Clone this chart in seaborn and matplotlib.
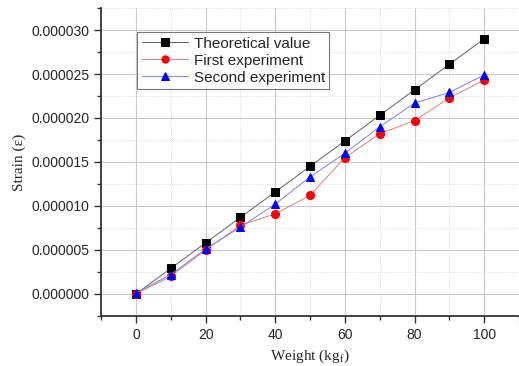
import pandas as pd
import numpy as np
import matplotlib.pyplot as plt
import seaborn as sns
from matplotlib.ticker import MultipleLocator, FormatStrFormatter

# Data (strain in units of 1e-6)
weight = [0, 10, 20, 30, 40, 50, 60, 70, 80, 90, 100]
theoretical = [0.0, 2.9, 5.8, 8.7, 11.6, 14.5, 17.4, 20.3, 23.2, 26.1, 29.0]
first_exp = [0.0, 2.0, 5.0, 7.8, 9.1, 11.2, 15.5, 18.2, 19.7, 22.3, 24.3]
second_exp = [0.1, 2.2, 5.1, 7.6, 10.2, 13.3, 16.0, 19.0, 21.7, 22.9, 24.9]

series = {
    "Theoretical value": (theoretical, "s", "#000000", "#606060"),
    "First experiment": (first_exp, "o", "#ff0000", "#e08080"),
    "Second experiment": (second_exp, "^", "#0000ff", "#8080e0"),
}

sns.set_style("white")
plt.rcParams["font.family"] = ["Liberation Sans", "DejaVu Sans"]
fig = plt.figure(figsize=(5.19, 3.66), dpi=100)
ax = fig.add_axes([0.195, 0.137, 0.805, 0.841])

for name, (vals, mk, mc, lc) in series.items():
    df = pd.DataFrame({"Weight": weight, "Strain": np.array(vals) * 1e-6})
    sns.lineplot(data=df, x="Weight", y="Strain", ax=ax, label=name,
                 color=lc, linewidth=0.7, marker=mk, markersize=5.8,
                 markerfacecolor=mc, markeredgecolor=mc)

ax.set_xlim(-10, 110)
ax.set_ylim(-2.5e-6, 32.5e-6)
ax.xaxis.set_major_locator(MultipleLocator(20))
ax.xaxis.set_minor_locator(MultipleLocator(10))
ax.yaxis.set_major_locator(MultipleLocator(5e-6))
ax.yaxis.set_minor_locator(MultipleLocator(2.5e-6))
ax.yaxis.set_major_formatter(FormatStrFormatter("%.6f"))

ax.grid(which="major", color="#cccccc", linewidth=0.8, linestyle="-")
ax.grid(which="minor", color="#d4d4d4", linewidth=0.6, linestyle=":")
ax.set_axisbelow(True)

for s in ["top", "right"]:
    ax.spines[s].set_visible(False)
for s in ["left", "bottom"]:
    ax.spines[s].set_color("#333333")
    ax.spines[s].set_linewidth(1.3)

ax.tick_params(which="major", direction="out", length=5, width=1, color="#333333",
               labelsize=10, bottom=True, left=True)
ax.tick_params(which="minor", direction="out", length=3, width=1, color="#333333",
               bottom=True, left=True)

ax.set_xlabel("Weight (kg$_\\mathregular{f}$)", family="Liberation Serif", fontsize=11)
ax.set_ylabel("Strain (\u03b5)", family="Liberation Serif", fontsize=11)

leg = ax.legend(loc="upper left", bbox_to_anchor=(0.086, 0.922), fontsize=11,
                frameon=True, fancybox=False, edgecolor="#555555",
                borderpad=0.3, labelspacing=0.2, handlelength=3.0,
                handletextpad=0.4, borderaxespad=0, markerscale=0.9)
leg.get_frame().set_linewidth(0.8)

fig.savefig("out.png", dpi=100)
